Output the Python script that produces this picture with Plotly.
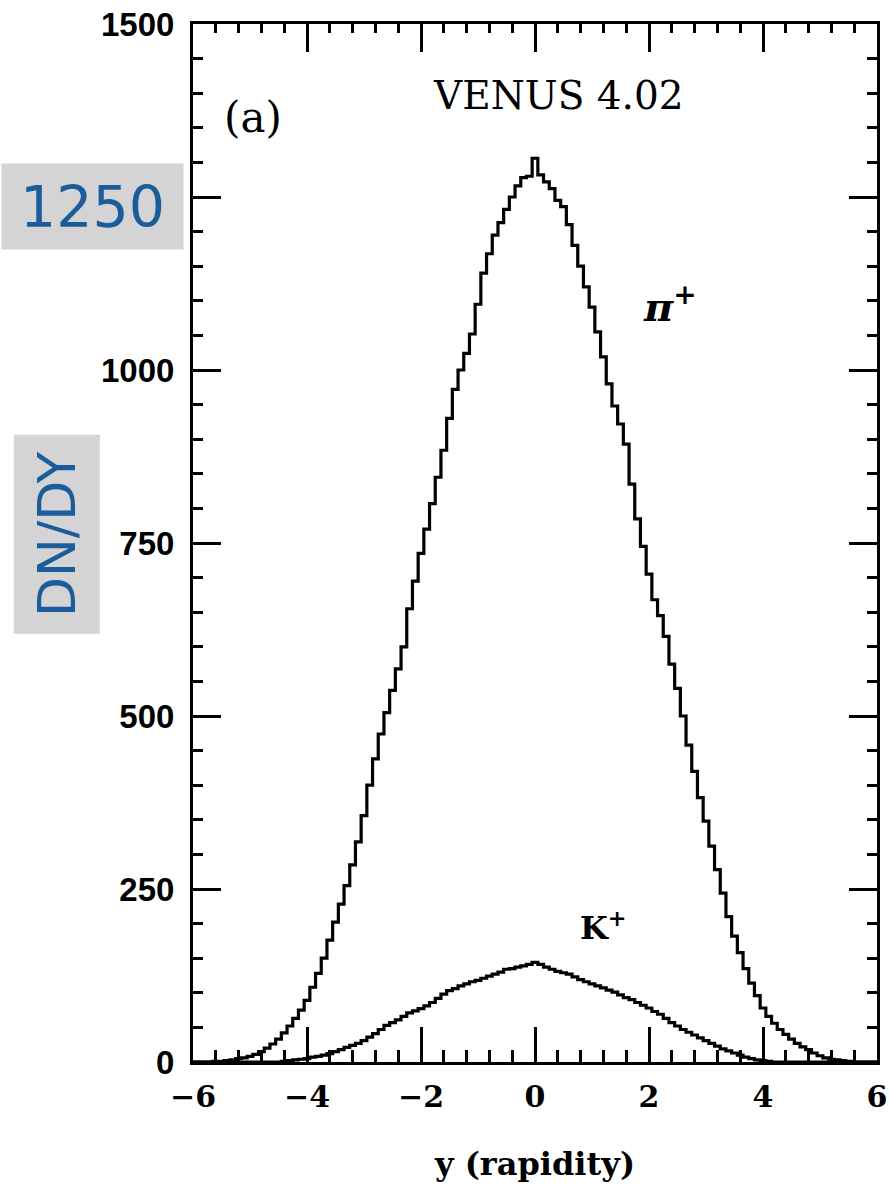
import plotly.graph_objects as go

# Bin centres (rapidity), bin width 0.1
bin_width = 0.1
rapidity = [round(-6.0 + 0.1 * i, 1) for i in range(121)]

pion = [
    0, 0, 0, 0, 1, 1, 2, 3, 5, 6,
    8, 11, 15, 20, 26, 33, 42, 52, 63, 75,
    89, 108, 128, 150, 176, 202, 228, 255, 285, 318,
    356, 400, 438, 474, 505, 537, 568, 600, 655, 695,
    735, 770, 807, 845, 884, 930, 972, 1000, 1024, 1052,
    1095, 1140, 1168, 1195, 1213, 1232, 1250, 1266, 1278, 1280,
    1306,
    1282, 1272, 1262, 1245, 1236, 1210, 1180, 1150, 1120, 1091,
    1055, 1019, 980, 948, 922, 893, 835, 785, 745, 705,
    668, 645, 615, 575, 540, 500, 458, 420, 382, 348,
    312, 278, 244, 210, 182, 158, 135, 114, 96, 78,
    66, 56, 47, 40, 33, 27, 22, 18, 13, 9,
    6, 4, 3, 2, 1, 0, 0, 0, 0, 0,
]

kaon = [
    0, 0, 0, 0, 0, 0, 0, 0, 0, 0,
    0, 0, 0, 0, 0, 0, 1, 2, 3, 4,
    5, 7, 8, 10, 12, 15, 18, 21, 24, 27,
    31, 36, 41, 47, 53, 57, 61, 66, 71, 74,
    77, 81, 86, 92, 98, 103, 106, 110, 113, 116,
    118, 121, 124, 127, 130, 134, 135, 137, 139, 141,
    144,
    141, 137, 134, 131, 129, 127, 123, 119, 116, 113,
    110, 107, 104, 101, 97, 93, 90, 86, 82, 78,
    73, 69, 63, 57, 52, 47, 43, 39, 35, 31,
    27, 23, 19, 16, 13, 10, 7, 5, 3, 2,
    1, 0, 0, 0, 0, 0, 0, 0, 0, 0,
    0, 0, 0, 0, 0, 0, 0, 0, 0, 0,
]

y_ticks_all = [0, 250, 500, 750, 1000, 1250, 1500]
y_tick_labels = [0, 250, 500, 750, 1000, 1500]   # 1250 is shown in the grey box
x_tickvals = [-6, -4, -2, 0, 2, 4, 6]
x_range = [-6, 6]
y_range = [0, 1500]


def hist_xy(centres, values, w):
    xs = [c - w / 2 for c in centres] + [centres[-1] + w / 2]
    ys = list(values) + [values[-1]]
    return xs, ys


fig = go.Figure()
for vals in (pion, kaon):
    xs, ys = hist_xy(rapidity, vals, bin_width)
    fig.add_trace(go.Scatter(x=xs, y=ys, mode="lines", line_shape="hv",
                             line=dict(color="black", width=3.2),
                             showlegend=False, hoverinfo="skip"))

# invisible helper traces so the tick-only frame axes are drawn
fig.add_trace(go.Scatter(x=[0], y=[0], xaxis="x2", yaxis="y2", mode="markers",
                         marker=dict(opacity=0), showlegend=False, hoverinfo="skip"))
fig.add_trace(go.Scatter(x=[0], y=[0], xaxis="x", yaxis="y3", mode="markers",
                         marker=dict(opacity=0), showlegend=False, hoverinfo="skip"))

serif = "DejaVu Serif"
blue = "#1b5c9b"
tick_common = dict(ticks="inside", tickwidth=3, tickcolor="black",
                   showgrid=False, zeroline=False)

fig.update_layout(
    width=889, height=1192,
    margin=dict(l=193, r=2, t=24, b=130),
    paper_bgcolor="white", plot_bgcolor="white",
    xaxis=dict(
        range=x_range, tickvals=x_tickvals,
        showline=True, linewidth=3, linecolor="black", mirror=True,
        ticklen=35,
        minor=dict(ticks="inside", ticklen=12, tickwidth=3, tickcolor="black", dtick=0.4, tick0=-6),
        ticklabeloverflow="allow", ticklabelstandoff=6,
        tickfont=dict(family=serif, size=30, color="black", weight="bold"),
        title=dict(text="y (rapidity)", standoff=40,
                   font=dict(family=serif, size=32, color="black", weight="bold")),
        **tick_common,
    ),
    xaxis2=dict(
        range=x_range, tickvals=x_tickvals, overlaying="x", side="top", anchor="y",
        showticklabels=False, showline=False, ticklen=28,
        minor=dict(ticks="inside", ticklen=9, tickwidth=3, tickcolor="black", dtick=0.4, tick0=-6),
        **tick_common,
    ),
    yaxis=dict(
        range=y_range, tickvals=y_tick_labels,
        showline=True, linewidth=3, linecolor="black", mirror=True,
        ticks="", showgrid=False, zeroline=False,
        ticklabelstandoff=9,
        tickfont=dict(family="Liberation Sans", size=33, color="black", weight="bold"),
    ),
    yaxis2=dict(
        range=y_range, tickvals=y_ticks_all, overlaying="y", side="right", anchor="x",
        showticklabels=False, showline=False, ticklen=28,
        minor=dict(ticks="inside", ticklen=10, tickwidth=3, tickcolor="black", dtick=50, tick0=0),
        **tick_common,
    ),
    yaxis3=dict(
        range=y_range, tickvals=y_ticks_all, overlaying="y", side="left", anchor="x",
        showticklabels=False, showline=False, ticklen=28,
        minor=dict(ticks="inside", ticklen=10, tickwidth=3, tickcolor="black", dtick=50, tick0=0),
        **tick_common,
    ),
    annotations=[
        dict(text="VENUS 4.02", x=0.42, y=1396, xref="x", yref="y", showarrow=False,
             font=dict(family=serif, size=39, color="black")),
        dict(text="(a)", x=-4.94, y=1365, xref="x", yref="y", showarrow=False,
             font=dict(family=serif, size=42, color="black")),
        dict(text="<i>π</i><sup>+</sup>", x=2.36, y=1095, xref="x", yref="y", showarrow=False,
             font=dict(family=serif, size=40, color="black", weight="bold")),
        dict(text="K<sup>+</sup>", x=1.2, y=197, xref="x", yref="y", showarrow=False,
             font=dict(family=serif, size=32, color="black", weight="bold")),
        dict(text="1250", x=-0.1465, y=1237, xref="paper", yref="y", showarrow=False,
             xanchor="center", yanchor="middle",
             width=181, height=85, borderpad=0, bgcolor="#d4d4d4",
             font=dict(family="DejaVu Sans", size=57, color=blue)),
        dict(text="DN/DY", x=-0.1984, y=0.5087, xref="paper", yref="paper", showarrow=False,
             xanchor="center", yanchor="middle",
             textangle=-90, width=198, height=85, borderpad=0, bgcolor="#d4d4d4",
             font=dict(family="DejaVu Sans", size=52, color=blue)),
    ],
)

fig.write_html("out.html")
